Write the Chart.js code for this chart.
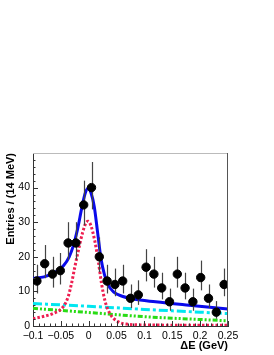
<!DOCTYPE html>
<html>
<head>
<meta charset="utf-8">
<script src="https://cdn.jsdelivr.net/npm/chart.js@4/dist/chart.umd.min.js"></script>
<style>
  body { margin: 0; background: #fff; }
</style>
</head>
<body>
<canvas id="myChart" width="274" height="355"></canvas>
<script>
// bin centres (14 MeV bins) and entries
const binX = [-0.093, -0.079, -0.065, -0.051, -0.037, -0.023, -0.009, 0.005, 0.019, 0.033,
  0.047, 0.061, 0.075, 0.089, 0.103, 0.117, 0.131, 0.145, 0.159, 0.173,
  0.187, 0.201, 0.215, 0.229, 0.243];
const entries = [13, 18, 15, 16, 24, 24, 35, 40, 20, 13, 12, 13, 8, 9, 17, 15, 11, 7, 15, 11, 7, 14, 8, 4, 12];
const errLow = [3.6, 4.2, 3.9, 4.0, 4.9, 4.9, 5.9, 6.3, 4.4, 3.6, 3.4, 3.6, 2.8, 2.9, 4.1, 3.9, 3.3, 2.6, 3.9, 3.3, 2.6, 3.7, 2.8, 1.9, 3.4];
const errHigh = [4.7, 5.4, 5.0, 5.1, 6.0, 6.0, 7.0, 7.4, 5.6, 4.7, 4.6, 4.7, 4.0, 4.2, 5.2, 5.0, 4.4, 3.8, 5.0, 4.4, 3.8, 4.9, 4.0, 3.2, 4.6];

// total fit (blue)
const totalX = [-0.1, -0.08, -0.06, -0.045, -0.035, -0.028, -0.02, -0.012, -0.006, -0.001, 0.004, 0.01, 0.016, 0.022, 0.028, 0.035, 0.045, 0.06, 0.08, 0.12, 0.18, 0.25];
const totalY = [13.8, 14.2, 15.5, 17.5, 20, 23, 28, 34.5, 38.5, 39.8, 38.5, 34.5, 27, 19.5, 15, 11.8, 9.8, 8.6, 7.8, 7.0, 6.0, 4.9];

// signal (red dotted)
const sigX = [-0.1, -0.08, -0.064, -0.046, -0.037, -0.031, -0.025, -0.019, -0.011, -0.005, -0.001, 0.004, 0.011, 0.017, 0.023, 0.029, 0.038, 0.053, 0.07, 0.1, 0.25];
const sigY = [2.1, 2.8, 3.6, 5.5, 8.4, 12.2, 17, 21.5, 27, 29.8, 30.3, 29, 24.5, 19, 12.3, 7.4, 3.6, 1.2, 0.5, 0.3, 0.2];

// background components
const bg1X = [-0.1, 0, 0.1, 0.25];
const bg1Y = [6.5, 5.7, 4.8, 3.6];
const bg2X = [-0.1, 0, 0.1, 0.25];
const bg2Y = [5.1, 3.9, 2.7, 1.5];

const xTicks = [-0.1, -0.05, 0, 0.05, 0.1, 0.15, 0.2, 0.25];
const xTickLabels = ['\u22120.1', '\u22120.05', '0', '0.05', '0.1', '0.15', '0.2', '0.25'];
const yTicks = [0, 10, 20, 30, 40];
const yTickLabels = ['0', '10', '20', '30', '40'];

Chart.defaults.font.family = "'Liberation Sans', Arial, sans-serif";
Chart.defaults.color = '#000';

function pts(xs, ys) {
  return xs.map((x, i) => ({ x: x, y: ys[i] }));
}

const errorBars = {
  id: 'errorBars',
  beforeDatasetDraw(chart, args) {
    if (args.index !== 0) return;
    const ctx = chart.ctx, xs = chart.scales.x, ys = chart.scales.y;
    ctx.save();
    ctx.strokeStyle = '#444';
    ctx.lineWidth = 1.2;
    for (let i = 0; i < binX.length; i++) {
      const px = Math.round(xs.getPixelForValue(binX[i])) + 0.5;
      ctx.beginPath();
      ctx.moveTo(px, ys.getPixelForValue(entries[i] - errLow[i]));
      ctx.lineTo(px, ys.getPixelForValue(entries[i] + errHigh[i]));
      ctx.stroke();
    }
    ctx.restore();
  }
};

const frame = {
  id: 'frame',
  afterDraw(chart) {
    const ctx = chart.ctx, a = chart.chartArea, xs = chart.scales.x, ys = chart.scales.y;
    ctx.save();
    ctx.lineWidth = 1;
    // top and right lines
    ctx.strokeStyle = '#bbb';
    ctx.beginPath();
    ctx.moveTo(a.left, a.top + 0.5); ctx.lineTo(a.right, a.top + 0.5);
    ctx.stroke();
    ctx.strokeStyle = '#555';
    ctx.beginPath();
    ctx.moveTo(a.right - 0.5, a.top); ctx.lineTo(a.right - 0.5, a.bottom);
    ctx.stroke();
    // inner ticks
    ctx.strokeStyle = '#333';
    ctx.beginPath();
    for (let v = 0; v <= 48; v += 2) {
      const py = Math.round(ys.getPixelForValue(v)) + 0.5;
      ctx.moveTo(a.left, py);
      ctx.lineTo(a.left + (v % 10 === 0 ? 5 : 2.5), py);
    }
    for (let k = -10; k <= 25; k++) {
      const px = Math.round(xs.getPixelForValue(k / 100)) + 0.5;
      ctx.moveTo(px, a.bottom);
      ctx.lineTo(px, a.bottom - (k % 5 === 0 ? 5 : 2.5));
    }
    ctx.stroke();
    ctx.restore();
  }
};

new Chart(document.getElementById('myChart'), {
  type: 'scatter',
  data: {
    datasets: [
      {
        label: 'data',
        data: pts(binX, entries),
        backgroundColor: '#000',
        borderColor: '#000',
        pointRadius: 4.2,
        order: 0
      },
      {
        label: 'total',
        data: pts(totalX, totalY),
        showLine: true,
        borderColor: 'rgb(10, 10, 235)',
        borderWidth: 3,
        pointRadius: 0,
        cubicInterpolationMode: 'monotone',
        order: 1
      },
      {
        label: 'signal',
        data: pts(sigX, sigY),
        showLine: true,
        borderColor: 'rgb(238, 30, 80)',
        borderWidth: 3,
        borderDash: [2.5, 2],
        pointRadius: 0,
        cubicInterpolationMode: 'monotone',
        order: 2
      },
      {
        label: 'bkg1',
        data: pts(bg1X, bg1Y),
        showLine: true,
        borderColor: 'rgb(0, 230, 240)',
        borderWidth: 3,
        borderDash: [9, 3, 3, 3],
        pointRadius: 0,
        cubicInterpolationMode: 'monotone',
        order: 3
      },
      {
        label: 'bkg2',
        data: pts(bg2X, bg2Y),
        showLine: true,
        borderColor: 'rgb(40, 220, 20)',
        borderWidth: 3,
        borderDash: [5, 2, 2, 2, 2, 2],
        pointRadius: 0,
        cubicInterpolationMode: 'monotone',
        order: 4
      }
    ]
  },
  options: {
    responsive: false,
    animation: false,
    devicePixelRatio: 1,
    layout: { padding: { left: 0, right: 46, top: 153, bottom: 0 } },
    plugins: { legend: { display: false }, tooltip: { enabled: false } },
    scales: {
      x: {
        type: 'linear',
        min: -0.1,
        max: 0.25,
        afterBuildTicks: s => { s.ticks = xTicks.map(v => ({ value: v })); },
        afterFit: s => { s.height = 29; },
        grid: { display: false, drawTicks: false },
        border: { display: true, color: '#333', width: 1 },
        ticks: {
          padding: 4,
          maxRotation: 0,
          autoSkip: false,
          font: { size: 10.5 },
          callback: (v) => xTickLabels[xTicks.findIndex(t => Math.abs(t - v) < 1e-6)]
        },
        title: {
          display: true,
          text: '\u0394E (GeV)',
          align: 'end',
          font: { size: 11, weight: 'bold' },
          padding: { top: 2, bottom: 2 }
        }
      },
      y: {
        min: 0,
        max: 50,
        afterBuildTicks: s => { s.ticks = yTicks.map(v => ({ value: v })); },
        afterFit: s => { s.width = 33; },
        grid: { display: false, drawTicks: false },
        border: { display: true, color: '#333', width: 1 },
        ticks: {
          padding: 3,
          font: { size: 10.5 },
          callback: (v) => yTickLabels[yTicks.indexOf(v)]
        },
        title: {
          display: true,
          text: 'Entries / (14 MeV)',
          align: 'end',
          font: { size: 11, weight: 'bold' },
          padding: { top: 4, bottom: 4 }
        }
      }
    }
  },
  plugins: [errorBars, frame]
});
</script>
</body>
</html>
